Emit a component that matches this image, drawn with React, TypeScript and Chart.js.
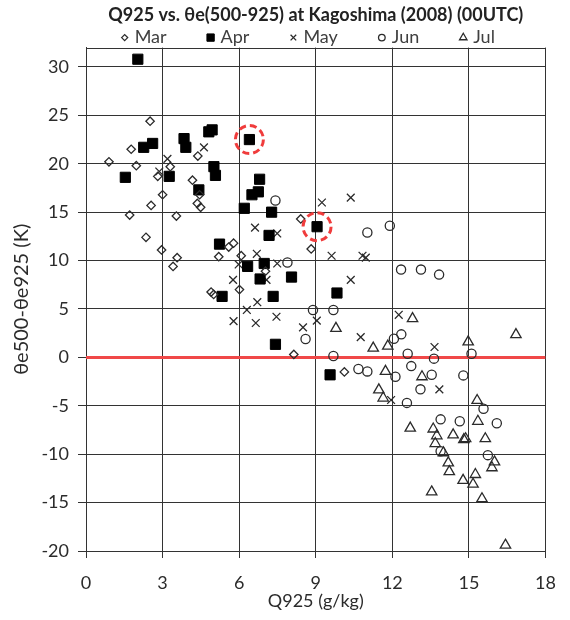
import React, { useEffect, useRef } from 'react';
import { Chart, registerables } from 'chart.js';
import { drawPoint } from 'chart.js/helpers';

Chart.register(...registerables);

const titleText = 'Q925 vs. θe(500-925) at Kagoshima (2008) (00UTC)';
const xTitle = 'Q925 (g/kg)';
const yTitle = 'θe500-θe925 (K)';
const months = ['Mar', 'Apr', 'May', 'Jun', 'Jul'];

const xRange: [number, number] = [0, 18];
const yRange: [number, number] = [-20, 32];
const xTickValues = [0, 3, 6, 9, 12, 15, 18];
const yTickValues = [-20, -15, -10, -5, 0, 5, 10, 15, 20, 25, 30];

const marPoints: [number, number][] = [
  [0.9, 20.2], [1.77, 21.5], [1.97, 19.8], [2.51, 24.4], [1.71, 14.7], [2.35, 12.4],
  [2.55, 15.7], [2.81, 18.7], [2.96, 11.1], [3.0, 16.8], [3.3, 19.7], [3.41, 9.4],
  [3.54, 14.6], [3.57, 10.3], [4.17, 18.3], [4.38, 20.8], [4.36, 15.9], [4.45, 16.8],
  [4.49, 15.5], [5.59, 11.4], [5.78, 11.8], [5.2, 10.4], [6.08, 10.5], [7.03, 8.9],
  [6.01, 7.0], [4.9, 6.75], [5.0, 6.5], [8.41, 14.3], [8.82, 11.2], [8.14, 0.3],
  [10.12, -1.5],
];

const aprPoints: [number, number][] = [
  [2.03, 30.8], [4.81, 23.3], [4.94, 23.5], [6.4, 22.5], [3.84, 22.6], [3.91, 21.7],
  [2.26, 21.7], [2.61, 22.1], [3.26, 18.7], [1.54, 18.6], [5.01, 19.7], [5.07, 18.8],
  [4.42, 17.3], [6.8, 18.4], [6.75, 17.1], [6.5, 16.8], [6.2, 15.4], [7.27, 15.0],
  [9.05, 13.5], [7.17, 12.6], [5.23, 11.7], [6.33, 9.4], [6.98, 9.7], [6.82, 8.1],
  [8.05, 8.3], [5.33, 6.3], [7.33, 6.3], [7.42, 1.35], [9.83, 6.65], [9.56, -1.8],
];

const mayPoints: [number, number][] = [
  [4.62, 21.7], [3.19, 20.5], [2.87, 19.2], [6.62, 13.4], [7.49, 12.8], [9.24, 16.0],
  [10.37, 16.5], [6.69, 10.7], [5.98, 9.6], [7.49, 9.7], [7.07, 8.0], [5.76, 8.0],
  [6.71, 5.7], [6.3, 4.9], [5.78, 3.75], [6.65, 3.55], [7.46, 4.2], [8.5, 3.1],
  [9.62, 10.5], [10.83, 10.5], [10.96, 10.3], [10.37, 8.0], [9.04, 3.8], [10.76, 2.1],
  [12.25, 4.4], [13.65, 1.07], [13.84, -3.3], [11.95, -4.4],
];

const junPoints: [number, number][] = [
  [7.42, 16.2], [11.02, 12.9], [11.9, 13.6], [7.89, 9.8], [8.89, 4.9], [9.69, 4.9],
  [8.6, 1.9], [9.69, 0.15], [10.67, -1.2], [11.02, -1.45], [12.34, 9.07], [13.12, 9.07],
  [13.83, 8.55], [12.06, 1.93], [12.35, 2.38], [12.6, 0.38], [13.63, -0.13], [15.1, 0.38],
  [12.74, -0.9], [12.12, -2.0], [13.54, -1.8], [13.1, -3.3], [12.57, -4.7], [13.89, -6.4],
  [14.78, -1.86], [15.57, -5.3], [14.64, -6.6], [16.09, -6.8], [15.74, -10.1], [13.89, -9.7],
];

const julPoints: [number, number][] = [
  [9.79, 3.0], [11.25, 0.96], [11.82, 1.17], [12.79, 4.0], [14.97, 1.6], [16.84, 2.35],
  [11.73, -1.45], [13.16, -2.0], [11.47, -3.35], [11.64, -4.2], [12.7, -7.3], [13.6, -7.4],
  [13.74, -8.1], [15.32, -4.45], [15.35, -6.6], [14.38, -8.0], [14.8, -8.5], [14.87, -8.4],
  [15.64, -8.4], [13.68, -8.9], [14.0, -9.85], [16.0, -10.8], [15.9, -11.4], [14.19, -10.9],
  [14.23, -11.8], [15.25, -12.1], [15.16, -13.1], [14.77, -12.7], [13.54, -13.9], [15.51, -14.6],
  [16.43, -19.4],
];

const zeroLine: [number, number][] = [[0, 0], [18, 0]];
const highlighted: [number, number][] = [[6.4, 22.5], [9.05, 13.5]];

const FONT = "Lato, 'DejaVu Sans', sans-serif";
const INK = '#2b2b2b';
const GRID = '#333333';
const RED = '#f04848';

const toXY = (pts: [number, number][]) => pts.map(([x, y]) => ({ x, y }));

const framePlugin = {
  id: 'frameTop',
  beforeDatasetsDraw(chart: any) {
    const { ctx, chartArea } = chart;
    const y = Math.round(chartArea.top) + 0.5;
    ctx.save();
    ctx.strokeStyle = GRID;
    ctx.lineWidth = 1;
    ctx.beginPath();
    ctx.moveTo(chartArea.left, y);
    ctx.lineTo(chartArea.right, y);
    ctx.stroke();
    ctx.restore();
  },
};

const highlightPlugin = {
  id: 'highlightRings',
  afterDatasetsDraw(chart: any) {
    const { ctx, scales } = chart;
    ctx.save();
    ctx.strokeStyle = '#f03c3c';
    ctx.lineWidth = 3;
    ctx.setLineDash([7, 4]);
    highlighted.forEach(([x, y]) => {
      ctx.beginPath();
      ctx.arc(scales.x.getPixelForValue(x), scales.y.getPixelForValue(y), 14, 0, Math.PI * 2);
      ctx.stroke();
    });
    ctx.restore();
  },
};

// Legend row drawn from the datasets themselves (marker style + label)
const legendPlugin = {
  id: 'monthLegend',
  afterDraw(chart: any) {
    const { ctx, chartArea } = chart;
    const items = chart.data.datasets.filter((d: any) => months.includes(d.label));
    const fontSize = 18;
    const markerBox = 8;
    const markerGap = 6;
    const itemGap = 40;
    ctx.save();
    ctx.font = `${fontSize}px ${FONT}`;
    const widths = items.map((d: any) => markerBox + markerGap + ctx.measureText(d.label).width);
    const total = widths.reduce((a: number, b: number) => a + b, 0) + itemGap * (items.length - 1);
    const centerX = (chartArea.left + chartArea.right) / 2 - 8;
    const y = chartArea.top - 10;
    let x = centerX - total / 2;
    items.forEach((d: any, i: number) => {
      ctx.fillStyle = d.backgroundColor;
      ctx.strokeStyle = d.borderColor;
      ctx.lineWidth = d.borderWidth;
      drawPoint(ctx, { pointStyle: d.pointStyle, radius: d.pointRadius * 0.72, borderWidth: d.borderWidth, rotation: 0 }, x + markerBox / 2, y);
      ctx.fillStyle = '#404040';
      ctx.textAlign = 'left';
      ctx.textBaseline = 'middle';
      ctx.fillText(d.label, x + markerBox + markerGap, y);
      x += widths[i] + itemGap;
    });
    ctx.restore();
  },
};

export default function App() {
  const ref = useRef<HTMLCanvasElement>(null);

  useEffect(() => {
    const none = 'rgba(255,255,255,0)';
    const chart = new Chart(ref.current!, {
      type: 'scatter',
      data: {
        datasets: [
          {
            label: 'Mar', data: toXY(marPoints), pointStyle: 'rectRot', pointRadius: 4.2,
            borderColor: INK, backgroundColor: none, borderWidth: 1.3, order: 1,
          },
          {
            label: 'Apr', data: toXY(aprPoints), pointStyle: 'rect', pointRadius: 7.2,
            borderColor: '#000', backgroundColor: '#000', borderWidth: 1, order: 1,
          },
          {
            label: 'May', data: toXY(mayPoints), pointStyle: 'crossRot', pointRadius: 5.5,
            borderColor: INK, backgroundColor: none, borderWidth: 1.3, order: 1,
          },
          {
            label: 'Jun', data: toXY(junPoints), pointStyle: 'circle', pointRadius: 4.6,
            borderColor: INK, backgroundColor: none, borderWidth: 1.3, order: 1,
          },
          {
            label: 'Jul', data: toXY(julPoints), pointStyle: 'triangle', pointRadius: 6,
            borderColor: INK, backgroundColor: none, borderWidth: 1.3, order: 1,
          },
          {
            label: 'zero', data: toXY(zeroLine), showLine: true, pointRadius: 0,
            borderColor: RED, backgroundColor: RED, borderWidth: 3, order: 10,
          },
        ],
      } as any,
      options: {
        animation: false,
        responsive: false,
        layout: { padding: { left: 0, right: 20, top: 0, bottom: 0 } },
        plugins: {
          title: {
            display: true,
            fullSize: false,
            text: titleText,
            color: '#222',
            font: { family: FONT, size: 18, weight: 'bold' },
            padding: { top: 4, bottom: 22 },
          },
          legend: { display: false },
          tooltip: { enabled: false },
        },
        scales: {
          x: {
            type: 'linear',
            min: xRange[0],
            max: xRange[1],
            afterFit: (s: any) => { s.height = 69; },
            afterBuildTicks: (s: any) => { s.ticks = xTickValues.map((v) => ({ value: v })); },
            grid: { color: GRID, lineWidth: 1, tickLength: 7 },
            border: { color: GRID, width: 1 },
            ticks: { color: INK, font: { family: FONT, size: 18 }, padding: 14 },
            title: {
              display: true, text: xTitle, color: INK,
              font: { family: FONT, size: 18 }, padding: { top: 0, bottom: 8 },
            },
          },
          y: {
            type: 'linear',
            min: yRange[0],
            max: yRange[1],
            afterFit: (s: any) => { s.width = 86; },
            afterBuildTicks: (s: any) => { s.ticks = yTickValues.map((v) => ({ value: v })); },
            grid: { color: GRID, lineWidth: 1, tickLength: 8 },
            border: { color: GRID, width: 1 },
            ticks: { color: INK, font: { family: FONT, size: 18 }, padding: 9 },
            title: {
              display: true, text: yTitle, color: INK,
              font: { family: FONT, size: 20 }, padding: { top: 10, bottom: 0 },
            },
          },
        },
      } as any,
      plugins: [framePlugin, highlightPlugin, legendPlugin],
    });
    return () => chart.destroy();
  }, []);

  return (
    <div style={{ position: 'fixed', left: 0, top: 0, width: 570, height: 620, background: '#fff' }}>
      <canvas ref={ref} width={570} height={620} />
    </div>
  );
}
